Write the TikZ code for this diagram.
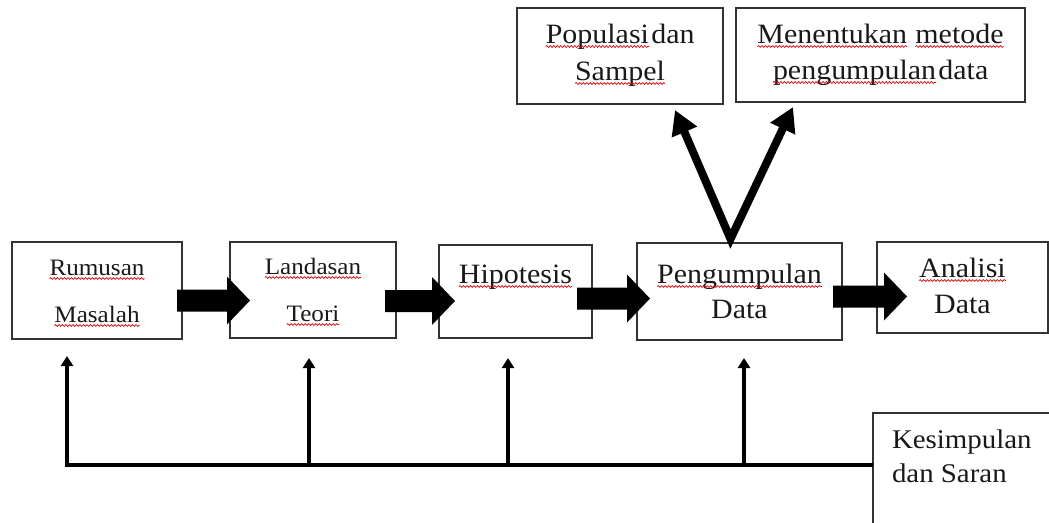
\documentclass[tikz,border=0pt]{standalone}
\usepackage{fontspec}
\setmainfont{Liberation Serif}[FakeStretch=1.07]
\usetikzlibrary{arrows.meta,calc,decorations.pathmorphing}
\newcommand\wv[1]{\tikz[baseline=(w.base)]{\node[inner sep=0pt,outer sep=0pt,anchor=base](w) at (0,0){#1};\draw[red!85!black,line width=0.7pt,decorate,decoration={snake,amplitude=0.9pt,segment length=3.5pt}]([yshift=-3.5pt]w.base west)--([yshift=-3.5pt]w.base east);}}
\newcommand\blockarrow[2]{\fill[black] ($(#1)+(0,-11)$) -- ($(#2)+(-23,-11)$) -- ($(#2)+(-23,-24)$) -- (#2) -- ($(#2)+(-23,24)$) -- ($(#2)+(-23,11)$) -- ($(#1)+(0,11)$) -- cycle;}
\begin{document}
\begin{tikzpicture}[x=1pt,y=-1pt,
  box/.style={draw=black!80,line width=1.2pt,rectangle,inner sep=0pt,outer sep=0pt},
  txt/.style={inner sep=0pt,outer sep=0pt,anchor=base,text=black!90},
  big/.style={font=\fontsize{28}{32}\selectfont},
  mid/.style={font=\fontsize{23.5}{28}\selectfont},
  kfont/.style={font=\fontsize{27}{30}\selectfont},
  vline/.style={line width=8pt,line join=miter,{Triangle[length=24pt,width=26pt]}-{Triangle[length=24pt,width=26pt]}},
  fbline/.style={line width=4.5pt,line join=miter,-{Triangle[length=10pt,width=12pt]}}]
\useasboundingbox (0,0) rectangle (1049,522);
\clip (0,0) rectangle (1049,522);
% boxes
\node[box,minimum width=170pt,minimum height=97pt] (r) at (97,290.5) {};
\node[box,minimum width=166pt,minimum height=96pt] (l) at (313,290) {};
\node[box,minimum width=153pt,minimum height=93pt] (h) at (515.5,291.5) {};
\node[box,minimum width=205pt,minimum height=97pt] (p) at (739.5,291.5) {};
\node[box,minimum width=171pt,minimum height=91pt] (a) at (962.5,287.5) {};
\node[box,minimum width=206pt,minimum height=96pt] (pop) at (620,56) {};
\node[box,minimum width=289pt,minimum height=94pt] (men) at (880.5,55) {};
\node[box,minimum width=180pt,minimum height=115pt,anchor=north west] (kes) at (873,413) {};
% texts
\node[txt,mid] (rt1) at (97,275) {\wv{Rumusan}};
\node[txt,mid] (rt2) at (97,322) {\wv{Masalah}};
\node[txt,mid] (lt1) at (313,274) {\wv{Landasan}};
\node[txt,mid] (lt2) at (313,321) {\wv{Teori}};
\node[txt,big] (ht1) at (515.5,283) {\wv{Hipotesis}};
\node[txt,big] (pt1) at (739.5,283) {\wv{Pengumpulan}};
\node[txt,big] (pt2) at (739.5,318) {Data};
\node[txt,big] (at1) at (962.5,277) {\wv{Analisi}};
\node[txt,big] (at2) at (962.5,313) {Data};
\node[txt,big] (popt1) at (620,43) {\wv{Populasi}\hspace{2pt}dan};
\node[txt,big] (popt2) at (620,80) {\wv{Sampel}};
\node[txt,big] (ment1) at (880.5,43) {\wv{Menentukan} \wv{metode}};
\node[txt,big] (ment2) at (880.5,79) {\wv{pengumpulan}\hspace{2pt}data};
\node[txt,kfont,anchor=base west] (kt1) at (892,448) {Kesimpulan};
\node[txt,kfont,anchor=base west] (kt2) at (892,482) {dan Saran};
% block arrows
\coordinate (a1s) at ($(r.east)+(-5,10)$);
\coordinate (a1t) at ($(l.west |- a1s)+(20,0)$);
\coordinate (a2s) at ($(l.east)+(-11,11)$);
\coordinate (a2t) at ($(h.west |- a2s)+(16,0)$);
\coordinate (a3s) at ($(h.east)+(-15,7)$);
\coordinate (a3t) at ($(p.west |- a3s)+(13,0)$);
\coordinate (a4s) at ($(p.east)+(-9,5)$);
\coordinate (a4t) at ($(a.west |- a4s)+(30,0)$);
\blockarrow{a1s}{a1t}
\blockarrow{a2s}{a2t}
\blockarrow{a3s}{a3t}
\blockarrow{a4s}{a4t}
% V arrows
\coordinate (vb) at ($(p.north)+(-9,-4)$);
\coordinate (vt1) at ($(pop.south east)+(-48,6)$);
\coordinate (vt2) at ($(men.south west)+(57,5)$);
\draw[vline] (vt1) -- (vb) -- (vt2);
% feedback lines
\coordinate (f1) at ($(r.south west)+(55,17)$);
\coordinate (f2) at ($(l.south west)+(79,20)$);
\coordinate (f3) at ($(h.south west)+(69,20)$);
\coordinate (f4) at ($(p.south west)+(107,18)$);
\coordinate (kj) at ($(kes.north west)+(0,52)$);
\draw[fbline] (kj) -- (kj -| f1) -- (f1);
\draw[fbline] (f2 |- kj) -- (f2);
\draw[fbline] (f3 |- kj) -- (f3);
\draw[fbline] (f4 |- kj) -- (f4);
\end{tikzpicture}
\end{document}
